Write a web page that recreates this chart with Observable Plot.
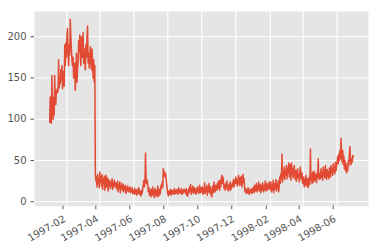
<!DOCTYPE html>
<html>
<head>
<meta charset="utf-8">
<script src="https://cdn.jsdelivr.net/npm/d3@7"></script>
<script src="https://cdn.jsdelivr.net/npm/@observablehq/plot@0.6"></script>
<style>
  html, body { margin: 0; padding: 0; background: white; }
</style>
</head>
<body>
<div id="chart"></div>
<script>
// Daily values, one array per month, starting 1997-01-01
const startDate = "1997-01-01";
const jan97 = [96,127,103,95,153,112,100,126,105,153,120,118,135,132,137,133,172,138,150,143,160,148,165,137,158,150,140,190,165,192,175];
const feb97 = [200,210,180,165,190,178,221,200,185,172,165,175,150,160,168,135,155,180,145,160,170,195,182,202,175,165,200,185];
const mar97 = [175,205,168,185,172,160,190,175,200,213,168,180,162,175,188,170,160,185,168,150,172,145,165,34,25,30,18,33,22,28,17];
const apr97 = [36,24,30,19,33,15,28,22,31,14,26,32,18,29,22,13,27,20,25,16,24,19,28,15,22,18,26,20,23,17];
const may97 = [22,15,25,12,20,17,24,11,19,16,22,14,21,12,18,15,20,10,17,14,19,12,16,13,18,11,15,12,17,10,14];
const jun97 = [14,9,16,11,13,8,15,10,12,17,9,13,11,7,14,10,16,20,26,18,24,59,28,22,26,20,12,17,8,15];
const jul97 = [12,6,15,9,18,7,13,5,16,10,8,14,6,19,11,7,15,9,13,20,16,24,18,40,33,36,30,34,28,22,15];
const aug97 = [10,7,13,9,12,15,8,11,14,10,13,9,16,12,10,14,11,15,9,13,17,11,14,10,12,16,9,13,11,15,12];
const sep97 = [14,10,16,8,12,7,15,11,18,13,21,9,16,12,19,10,14,17,11,15,9,13,18,12,16,10,20,14,11,17];
const oct97 = [12,18,9,15,11,23,10,16,13,20,8,17,12,22,14,10,18,9,6,13,19,11,24,15,12,20,17,14,22,16,25];
const nov97 = [20,14,26,18,28,32,22,30,24,16,20,14,22,18,25,15,19,13,21,16,24,14,20,17,23,19,27,18,25,22];
const dec97 = [30,22,27,19,25,32,24,20,29,21,31,18,26,33,23,28,15,12,16,10,14,11,17,13,9,15,12,14,10,16,11];
const jan98 = [14,18,11,20,13,16,22,12,19,15,24,13,17,21,11,19,14,23,16,12,20,15,25,13,18,22,14,20,17,24,15];
const feb98 = [16,24,12,20,14,26,11,22,15,18,27,13,21,17,25,12,19,30,22,34,28,58,24,36,30,42,27,38];
const mar98 = [32,44,28,40,35,47,30,45,38,26,47,33,41,29,36,44,31,27,38,25,35,40,29,33,24,37,42,30,27,35,23];
const apr98 = [22,30,18,27,20,32,25,19,28,17,24,30,21,64,26,33,22,36,28,24,37,30,26,33,23,35,29,52,31,27];
const may98 = [34,28,40,30,36,26,42,32,38,29,44,33,27,39,31,36,28,41,34,30,44,35,40,32,46,37,42,34,48,38,44];
const jun98 = [48,55,46,58,50,62,52,77,58,48,62,45,55,40,50,38,46,35,42,38,50,44,58,67,50,45,52,48,56,54];

const xTickLabels = ["1997-02","1997-04","1997-06","1997-08","1997-10","1997-12","1998-02","1998-04","1998-06"];
const yTicks = [0, 50, 100, 150, 200];

const values = [].concat(jan97, feb97, mar97, apr97, may97, jun97, jul97, aug97, sep97,
  oct97, nov97, dec97, jan98, feb98, mar98, apr98, may98, jun98);
const t0 = new Date(startDate + "T00:00:00Z");
const data = values.map((v, i) => ({date: d3.utcDay.offset(t0, i), value: v}));

const parseMonth = d3.utcParse("%Y-%m");
const xTicks = xTickLabels.map(parseMonth);

// 5% margins like matplotlib
const [d0, d1] = d3.extent(data, d => d.date);
const span = d1 - d0;
const xDomain = [new Date(+d0 - 0.05 * span), new Date(+d1 + 0.05 * span)];
const yDomain = [-5.4, 230.6];

const grid = "#ffffff";
const chart = Plot.plot({
  width: 378,
  height: 250,
  marginLeft: 34,
  marginRight: 10,
  marginTop: 11,
  marginBottom: 44.3,
  style: {background: "white", fontFamily: "DejaVu Sans", fontSize: "10px", color: "#555555"},
  x: {type: "utc", domain: xDomain},
  y: {domain: yDomain},
  marks: [
    Plot.frame({fill: "#E5E5E5", stroke: null}),
    Plot.gridX(xTicks, {stroke: grid, strokeOpacity: 1, strokeWidth: 1.1}),
    Plot.gridY(yTicks, {stroke: grid, strokeOpacity: 1, strokeWidth: 1.1}),
    Plot.axisY(yTicks, {tickSize: 3.5, tickPadding: 4.5, stroke: "#555555", fill: "#555555", label: null}),
    Plot.axisX(xTicks, {tickSize: 3.5, tickPadding: 5, tickRotate: -30, textAnchor: "end", lineAnchor: "top", dx: -4,
      tickFormat: d3.utcFormat("%Y-%m"), stroke: "#555555", fill: "#555555", label: null}),
    Plot.lineY(data, {x: "date", y: "value", stroke: "#E24A33", strokeWidth: 1.5})
  ]
});
document.getElementById("chart").appendChild(chart);
</script>
</body>
</html>
